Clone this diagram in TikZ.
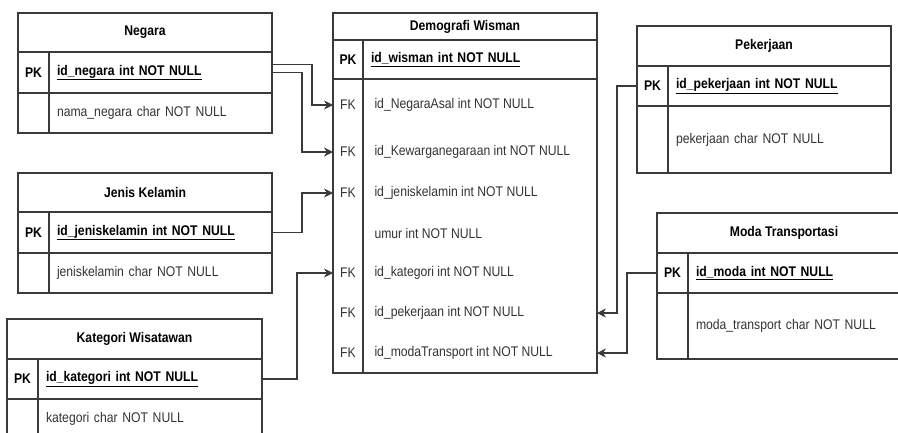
\documentclass[tikz,border=0pt]{standalone}
\usepackage{fontspec}
\setmainfont{Liberation Sans}[FakeStretch=0.87]
\usetikzlibrary{arrows.meta,positioning}

\definecolor{edgegray}{HTML}{3A3A3A}
\definecolor{textgray}{HTML}{333333}

\begin{document}
\begin{tikzpicture}[
    x=1pt, y=-1pt,
    font=\fontsize{14}{16}\selectfont,
    >={Stealth[length=9pt,width=9pt]},
    % --- cell styles -------------------------------------------------
    cell/.style={
        draw=edgegray, line width=1.1pt, outer sep=0pt, inner sep=0pt
    },
    title/.style={cell, font=\fontsize{14}{16}\selectfont\bfseries},
    key/.style={cell, minimum width=31pt, font=\fontsize{14}{16}\selectfont\bfseries},
    field/.style={cell, text width=#1, inner xsep=8pt, align=left, text=textgray},
    pkfield/.style={field=#1, text=black, font=\fontsize{14}{16}\selectfont\bfseries},
    fktext/.style={text=textgray},
    rowtext/.style={anchor=west, text=textgray},
    fk/.style={->, line width=1.1pt, edgegray}
]
\useasboundingbox (0,0) rectangle (898,432);
\clip (0,0) rectangle (898,432);

% --- Negara ---------------------------------------------------------
\node[title, minimum width=254pt, minimum height=39pt, anchor=north west] (negara) at (18,13) {Negara};
\node[key, minimum height=41pt, below right=0pt of negara.south west] (npkk) {PK};
\node[pkfield=207pt, minimum height=41pt, right=0pt of npkk] (npk) {\underline{id\_negara int NOT NULL}};
\node[key, minimum height=40pt, below=0pt of npkk] (nk2) {};
\node[field=207pt, minimum height=40pt, right=0pt of nk2] (nf2) {nama\_negara char NOT NULL};

% --- Jenis Kelamin --------------------------------------------------
\node[title, minimum width=254pt, minimum height=39pt, anchor=north west] (jenis) at (18,173) {Jenis Kelamin};
\node[key, minimum height=41pt, below right=0pt of jenis.south west] (jpkk) {PK};
\node[pkfield=207pt, minimum height=41pt, right=0pt of jpkk] (jpk) {\underline{id\_jeniskelamin int NOT NULL}};
\node[key, minimum height=40pt, below=0pt of jpkk] (jk2) {};
\node[field=207pt, minimum height=40pt, right=0pt of jk2] (jf2) {jeniskelamin char NOT NULL};

% --- Kategori Wisatawan ---------------------------------------------
\node[title, minimum width=255pt, minimum height=40pt, anchor=north west] (kategori) at (7,319) {Kategori Wisatawan};
\node[key, minimum height=40pt, below right=0pt of kategori.south west] (kpkk) {PK};
\node[pkfield=208pt, minimum height=40pt, right=0pt of kpkk] (kpk) {\underline{id\_kategori int NOT NULL}};
\node[key, minimum height=40pt, below=0pt of kpkk] (kk2) {};
\node[field=208pt, minimum height=40pt, right=0pt of kk2] (kf2) {kategori char NOT NULL};

% --- Demografi Wisman -----------------------------------------------
\node[title, minimum width=264pt, minimum height=27pt, anchor=north west] (demografi) at (333,13) {Demografi Wisman};
\node[key, minimum width=30pt, minimum height=39pt, below right=0pt of demografi.south west] (dpkk) {PK};
\node[pkfield=218pt, minimum height=39pt, right=0pt of dpkk] (dpk) {\underline{id\_wisman int NOT NULL}};
\node[key, minimum width=30pt, minimum height=294pt, below=0pt of dpkk] (dkey) {};
\node[field=218pt, minimum height=294pt, right=0pt of dkey] (dfield) {};

\node[fktext] (fk1) at (348,105) {FK};
\node[rowtext] (r1) at (371,105) {id\_NegaraAsal int NOT NULL};
\node[fktext] (fk2) at (348,152) {FK};
\node[rowtext] (r2) at (371,152) {id\_Kewarganegaraan int NOT NULL};
\node[fktext] (fk3) at (348,193) {FK};
\node[rowtext] (r3) at (371,193) {id\_jeniskelamin int NOT NULL};
\node[rowtext] (r4) at (371,233) {umur int NOT NULL};
\node[fktext] (fk5) at (348,273) {FK};
\node[rowtext] (r5) at (371,273) {id\_kategori int NOT NULL};
\node[fktext] (fk6) at (348,313) {FK};
\node[rowtext] (r6) at (371,313) {id\_pekerjaan int NOT NULL};
\node[fktext] (fk7) at (348,353) {FK};
\node[rowtext] (r7) at (371,353) {id\_modaTransport int NOT NULL};

% --- Pekerjaan ------------------------------------------------------
\node[title, minimum width=254pt, minimum height=40pt, anchor=north west] (pekerjaan) at (637,26) {Pekerjaan};
\node[key, minimum height=40pt, below right=0pt of pekerjaan.south west] (ppkk) {PK};
\node[pkfield=207pt, minimum height=40pt, right=0pt of ppkk] (ppk) {\underline{id\_pekerjaan int NOT NULL}};
\node[key, minimum height=67pt, below=0pt of ppkk] (pk2) {};
\node[field=207pt, minimum height=67pt, right=0pt of pk2] (pf2) {pekerjaan char NOT NULL};

% --- Moda Transportasi ----------------------------------------------
\node[title, minimum width=254pt, minimum height=40pt, anchor=north west] (moda) at (657,213) {Moda Transportasi};
\node[key, minimum height=40pt, below right=0pt of moda.south west] (mpkk) {PK};
\node[pkfield=207pt, minimum height=40pt, right=0pt of mpkk] (mpk) {\underline{id\_moda int NOT NULL}};
\node[key, minimum height=66pt, below=0pt of mpkk] (mk2) {};
\node[field=207pt, minimum height=66pt, right=0pt of mk2] (mf2) {moda\_transport char NOT NULL};

% --- foreign keys ---------------------------------------------------
\draw[fk] ([yshift=8pt]npk.east) -- ++(40,0) |- (dkey.west |- fk1);
\draw[fk] (npk.east) -- ++(30,0) |- (dkey.west |- fk2);
\draw[fk] (jpk.east) -- ++(30,0) |- (dkey.west |- fk3);
\draw[fk] (kpk.east) -- ++(35,0) |- (dkey.west |- fk5);
\draw[fk] (ppkk.west) -- ++(-20,0) |- (dfield.east |- fk6);
\draw[fk] (mpkk.west) -- ++(-30,0) |- (dfield.east |- fk7);

\end{tikzpicture}
\end{document}
